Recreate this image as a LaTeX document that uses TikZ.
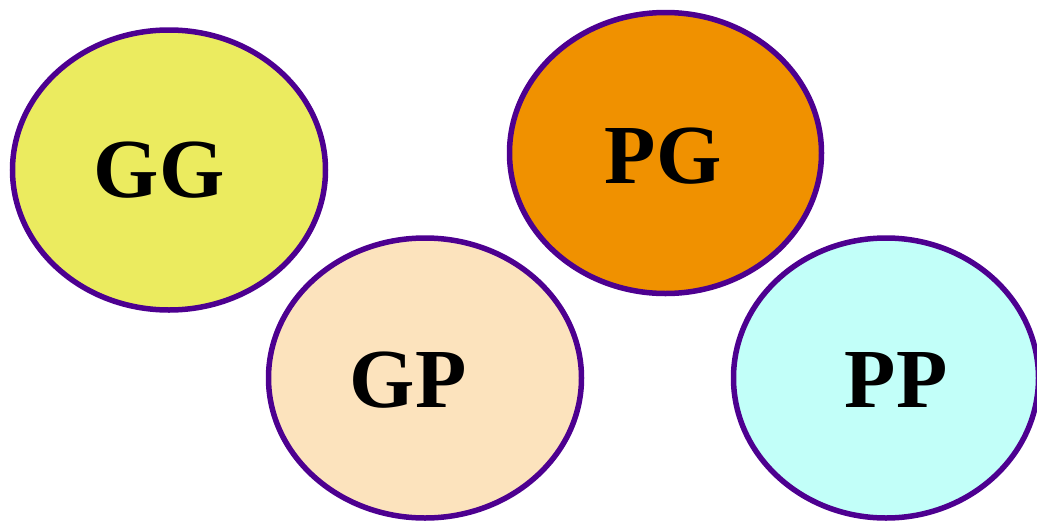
\documentclass[tikz,border=0pt]{standalone}
\usepackage{fontspec}
\setmainfont{Liberation Serif}
\usetikzlibrary{shapes.geometric}
\definecolor{ringc}{HTML}{4D0090}
\definecolor{ggc}{HTML}{EBEB5F}
\definecolor{pgc}{HTML}{F09100}
\definecolor{gpc}{HTML}{FCE3BD}
\definecolor{ppc}{HTML}{C2FFF9}
\begin{document}
\begin{tikzpicture}[x=1pt,y=-1pt,
  blob/.style={ellipse, draw=ringc, line width=5.5pt, inner sep=0pt, outer sep=0pt},
  lbl/.style={anchor=base, inner sep=0pt, font=\fontsize{84}{84}\selectfont\bfseries}]
\useasboundingbox (0,0) rectangle (1037,520);
\node[blob, fill=ggc, minimum width=313pt, minimum height=280pt] (gg) at (169,170) {};
\node[blob, fill=pgc, minimum width=312pt, minimum height=281pt] (pg) at (665.5,153) {};
\node[blob, fill=gpc, minimum width=313pt, minimum height=280pt] (gp) at (425,378) {};
\node[blob, fill=ppc, minimum width=305pt, minimum height=280pt] (pp) at (886,378) {};
\node[lbl] (ggt) at (159,197) {GG};
\node[lbl] (pgt) at (663,183) {PG};
\node[lbl] (gpt) at (408,407) {GP};
\node[lbl] (ppt) at (896,407) {PP};
\end{tikzpicture}
\end{document}
